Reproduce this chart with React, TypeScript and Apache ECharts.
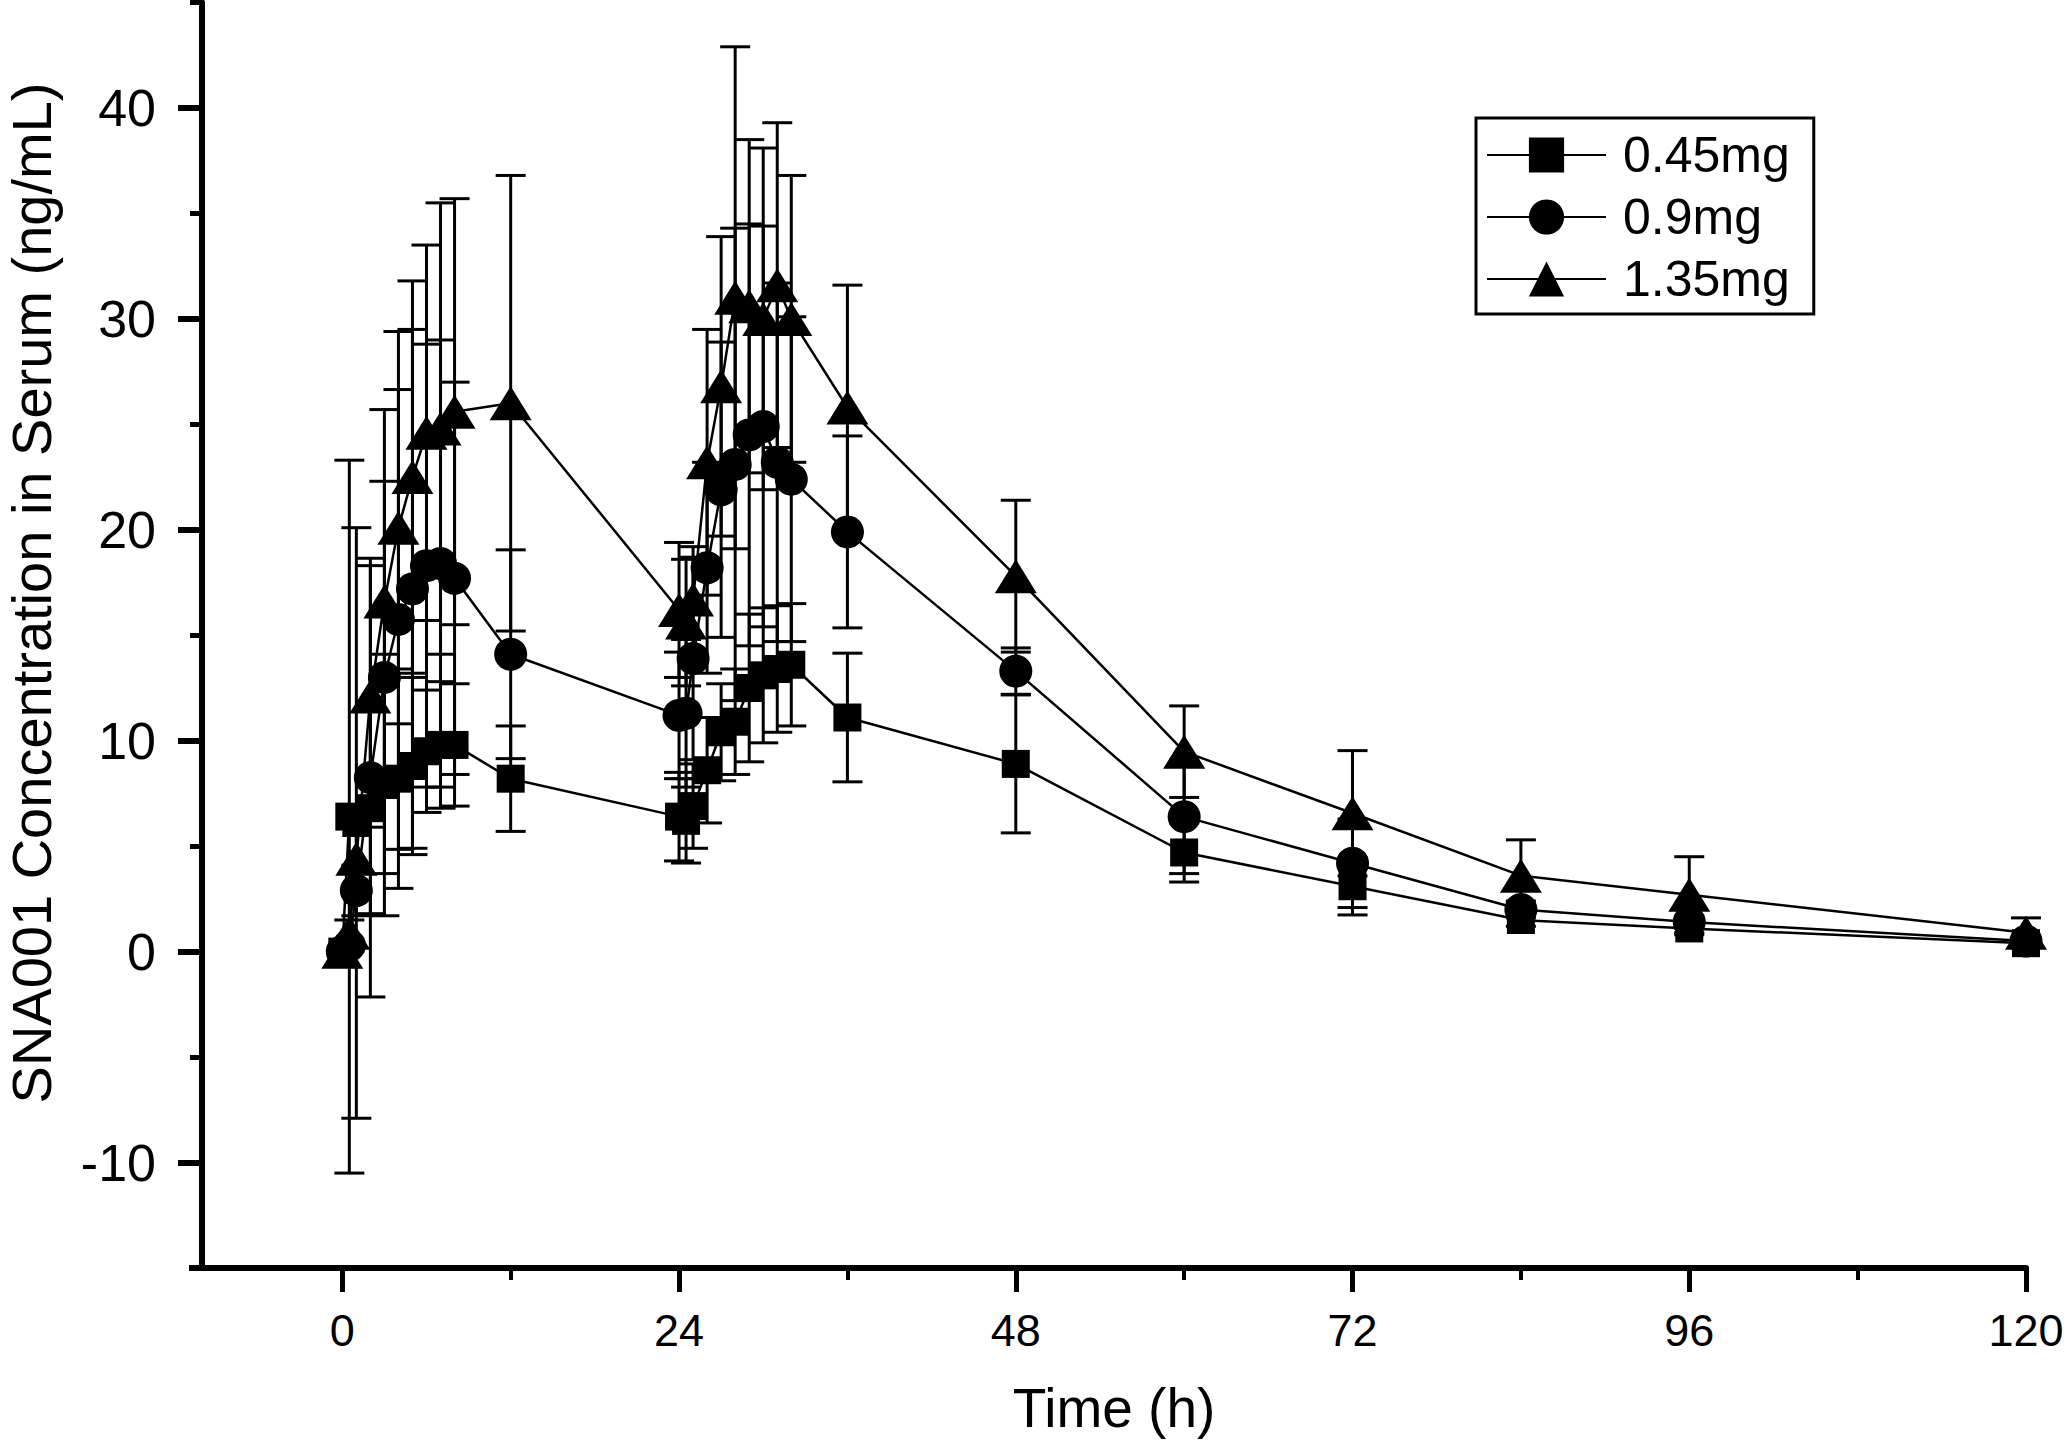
import React, { useEffect, useRef } from "react";
import * as echarts from "echarts";

// Sampling times (h)
const times = [0, 0.5, 1, 2, 3, 4, 5, 6, 7, 8, 12, 24, 24.5, 25, 26, 27, 28, 29, 30, 31, 32, 36, 48, 60, 72, 84, 96, 120];

// 0.45 mg (squares)
const mean045 = [0, 6.4, 6.1, 6.8, 7.9, 8.2, 8.8, 9.5, 9.8, 9.8, 8.2, 6.4, 6.2, 6.9, 8.6, 10.4, 10.9, 12.5, 13.1, 13.4, 13.6, 11.1, 8.9, 4.7, 3.1, 1.5, 1.1, 0.4];
const sd045 = [0, 16.9, 14.0, 5.0, 6.2, 5.2, 4.2, 2.9, 3.0, 2.9, 2.5, 2.1, 2.0, 2.0, 2.5, 2.3, 2.5, 3.5, 3.2, 3.0, 2.9, 3.05, 3.27, 1.4, 1.36, 0.3, 0.3, 0.2];

// 0.9 mg (circles)
const mean09 = [0, 0.3, 2.9, 8.25, 13.0, 15.75, 17.2, 18.3, 18.4, 17.7, 14.1, 11.2, 11.3, 13.9, 18.2, 21.9, 23.1, 24.5, 24.9, 23.2, 22.4, 19.9, 13.3, 6.4, 4.19, 2.0, 1.4, 0.5];
const sd09 = [0, 0.3, 1.2, 10.4, 9.3, 10.9, 12.3, 10.5, 10.6, 9.3, 4.95, 3.0, 3.5, 4.8, 5.0, 7.0, 11.2, 10.0, 9.5, 8.5, 7.7, 4.55, 1.1, 2.7, 2.1, 0.4, 0.3, 0.2];

// 1.35 mg (triangles)
const mean135 = [0, 0.9, 4.4, 12.1, 16.6, 20.1, 22.5, 24.6, 24.8, 25.6, 26.0, 16.2, 15.6, 16.7, 23.2, 26.8, 31.0, 30.6, 30.0, 31.6, 30.0, 25.8, 17.8, 9.48, 6.56, 3.6, 2.7, 0.9];
const sd135 = [0, 0.6, 1.5, 6.2, 9.1, 9.3, 9.3, 8.9, 10.7, 10.1, 10.8, 3.2, 3.0, 2.5, 6.3, 7.1, 11.9, 7.9, 8.1, 7.7, 6.8, 5.8, 3.6, 2.17, 2.97, 1.7, 1.8, 0.7];

const seriesNames = ["0.45mg", "0.9mg", "1.35mg"];

// Axis ticks
const xMajorTicks = [0, 24, 48, 72, 96, 120];
const xMinorTicks = [12, 36, 60, 84, 108];
const yMajorTicks = [-10, 0, 10, 20, 30, 40];
const yMinorTicks = [-5, 5, 15, 25, 35, 45];

const FONT = "'Liberation Sans', Arial, sans-serif";

function errorBarSeries(means: number[], sds: number[]) {
  return {
    type: "custom",
    xAxisIndex: 0,
    yAxisIndex: 0,
    silent: true,
    z: 1,
    encode: { x: 0, y: [1, 2] },
    data: times.map((t, i) => [t, means[i] - sds[i], means[i] + sds[i]]),
    renderItem: (params: any, api: any) => {
      const x = api.value(0);
      const lo = api.value(1);
      const hi = api.value(2);
      if (hi - lo <= 0) return { type: "group", children: [] };
      const pLo = api.coord([x, lo]);
      const pHi = api.coord([x, hi]);
      const hw = 15;
      const style = { stroke: "#000", lineWidth: 3 };
      return {
        type: "group",
        children: [
          { type: "line", shape: { x1: pLo[0], y1: pLo[1], x2: pHi[0], y2: pHi[1] }, style },
          { type: "line", shape: { x1: pLo[0] - hw, y1: pLo[1], x2: pLo[0] + hw, y2: pLo[1] }, style },
          { type: "line", shape: { x1: pHi[0] - hw, y1: pHi[1], x2: pHi[0] + hw, y2: pHi[1] }, style },
        ],
      };
    },
  };
}

function lineSeries(name: string, means: number[], symbol: string, symbolSize: any) {
  return {
    type: "line",
    name,
    xAxisIndex: 0,
    yAxisIndex: 0,
    data: times.map((t, i) => [t, means[i]]),
    symbol,
    symbolSize,
    showAllSymbol: true,
    lineStyle: { color: "#000", width: 2.5 },
    itemStyle: { color: "#000", borderWidth: 0 },
    z: 3,
  };
}

export default function App() {
  const ref = useRef<HTMLDivElement>(null);
  useEffect(() => {
    if (!ref.current) return;
    const chart = echarts.init(ref.current, null, { renderer: "svg" });
    const axisLineStyle = { color: "#000", width: 6 };
    chart.setOption({
      animation: false,
      backgroundColor: "#fff",
      textStyle: { fontFamily: FONT, color: "#000" },
      grid: { left: 202, right: 41, top: 2.5, bottom: 172, containLabel: false, outerBoundsMode: "none" },
      xAxis: [
        {
          type: "value",
          min: -10,
          max: 120,
          position: "bottom",
          axisLine: { show: true, onZero: false, lineStyle: axisLineStyle },
          axisTick: { show: true, length: 24, customValues: xMajorTicks, lineStyle: { color: "#000", width: 5 } },
          axisLabel: { show: true, customValues: xMajorTicks, fontSize: 45, margin: 40, color: "#000", fontFamily: FONT },
          splitLine: { show: false },
        },
        {
          type: "value",
          min: -10,
          max: 120,
          position: "bottom",
          axisLine: { show: false, onZero: false },
          axisTick: { show: true, length: 12, customValues: xMinorTicks, lineStyle: { color: "#000", width: 4 } },
          axisLabel: { show: false },
          splitLine: { show: false },
        },
      ],
      yAxis: [
        {
          type: "value",
          min: -15,
          max: 45,
          position: "left",
          axisLine: { show: true, onZero: false, lineStyle: axisLineStyle },
          axisTick: { show: true, length: 24, customValues: yMajorTicks, lineStyle: { color: "#000", width: 6 } },
          axisLabel: { show: true, customValues: yMajorTicks, fontSize: 52, margin: 46, color: "#000", fontFamily: FONT },
          splitLine: { show: false },
        },
        {
          type: "value",
          min: -15,
          max: 45,
          position: "left",
          axisLine: { show: false, onZero: false },
          axisTick: { show: true, length: 12, customValues: yMinorTicks, lineStyle: { color: "#000", width: 5 } },
          axisLabel: { show: false },
          splitLine: { show: false },
        },
      ],
      legend: {
        data: seriesNames,
        orient: "vertical",
        left: 1476,
        top: 118,
        padding: [12, 24, 10, 10],
        itemWidth: 119,
        itemHeight: 44,
        itemGap: 12,
        borderColor: "#000",
        borderWidth: 3,
        selectedMode: false,
        textStyle: { fontSize: 50, fontFamily: FONT, color: "#000", padding: [0, 0, 0, 12] },
      },
      graphic: [
        {
          type: "line",
          shape: { x1: 189, y1: 1268, x2: 205, y2: 1268 },
          style: { stroke: "#000", lineWidth: 6 },
        },
        {
          type: "text",
          x: 1114,
          y: 1408,
          style: { text: "Time (h)", fontSize: 55, fontFamily: FONT, fill: "#000", align: "center", verticalAlign: "middle" },
        },
        {
          type: "text",
          x: 31,
          y: 593,
          rotation: Math.PI / 2,
          style: {
            text: "SNA001 Concentration in Serum (ng/mL)",
            fontSize: 56,
            fontFamily: FONT,
            fill: "#000",
            align: "center",
            verticalAlign: "middle",
          },
        },
      ],
      series: [
        errorBarSeries(mean045, sd045),
        errorBarSeries(mean09, sd09),
        errorBarSeries(mean135, sd135),
        lineSeries(seriesNames[0], mean045, "rect", 28),
        lineSeries(seriesNames[1], mean09, "circle", 33),
        lineSeries(seriesNames[2], mean135, "triangle", [42, 34]),
      ],
    });
    return () => chart.dispose();
  }, []);
  return (
    <div
      ref={ref}
      style={{ position: "absolute", left: 0, top: 0, width: 2067, height: 1440, background: "#fff" }}
    />
  );
}
